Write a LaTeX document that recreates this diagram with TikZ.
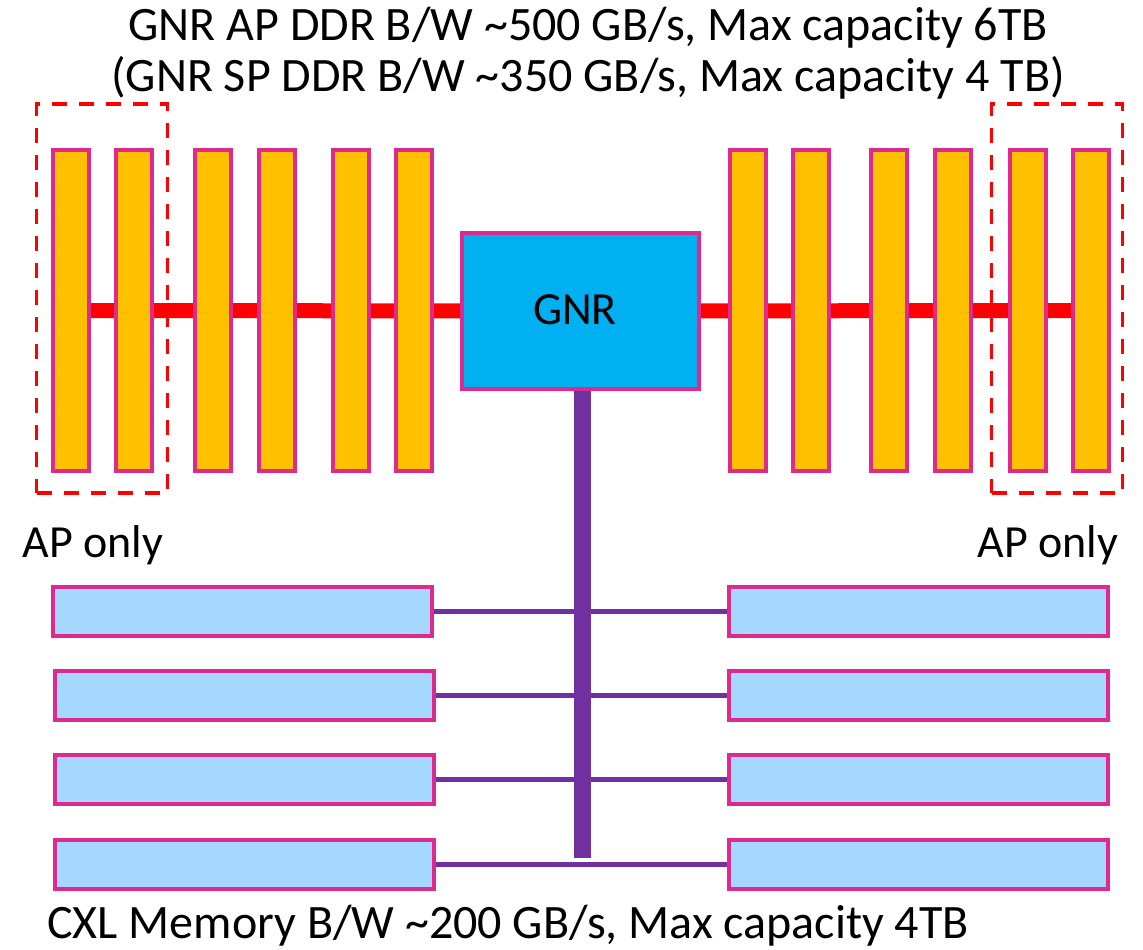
\documentclass[tikz,border=0pt]{standalone}
\usepackage{fontspec}
\setmainfont{Carlito}
\pgfdeclarelayer{background}
\pgfsetlayers{background,main}
\definecolor{dimmorange}{HTML}{FFC000}
\definecolor{edgepink}{HTML}{DE2A8E}
\definecolor{gnrblue}{HTML}{00B0F0}
\definecolor{cxlblue}{HTML}{A5D8FF}
\definecolor{buspurple}{HTML}{7030A0}
\definecolor{ddrred}{HTML}{FF0000}
\begin{document}
\begin{tikzpicture}[x=1pt,y=-1pt,
  dimm/.style={draw=edgepink, line width=4pt, fill=dimmorange, minimum width=36pt, minimum height=321pt, inner sep=0pt},
  cpu/.style={draw=edgepink, line width=4pt, fill=gnrblue, minimum width=237pt, minimum height=156pt, inner sep=0pt},
  cxl/.style={draw=edgepink, line width=4pt, fill=cxlblue, minimum width=379pt, minimum height=49pt, inner sep=0pt},
  aponly/.style={draw=ddrred, line width=3.5pt, dash pattern=on 15pt off 12pt, minimum width=131pt, minimum height=389pt, inner sep=0pt},
  ddrbus/.style={draw=ddrred, line width=15pt},
  cxlbus/.style={draw=buspurple, line width=17pt},
  cxllink/.style={draw=buspurple, line width=5pt},
  txt/.style={anchor=base, inner sep=0pt, font=\fontsize{48}{58}\selectfont},
  smalltxt/.style={anchor=base, inner sep=0pt, font=\fontsize{46}{55}\selectfont}
]
\useasboundingbox (0,0) rectangle (1143,950);

% titles
\node[txt] (t1) at (588,41) {GNR AP DDR B/W \textasciitilde500 GB/s, Max capacity 6TB};
\node[txt] (t2) at (588,92) {(GNR SP DDR B/W \textasciitilde350 GB/s, Max capacity 4 TB)};

% dashed AP-only regions
\node[aponly] (apl) at (102.2,298.5) {};
\node[aponly] (apr) at (1057.2,298.5) {};

% DIMMs
\node[dimm] (b1) at (71,310.5) {};
\node[dimm] (b2) at (134,310.5) {};
\node[dimm] (b3) at (212.5,310.5) {};
\node[dimm] (b4) at (276.5,310.5) {};
\node[dimm] (b5) at (350.5,310.5) {};
\node[dimm] (b6) at (414,310.5) {};
\node[dimm] (b7) at (747.5,310.5) {};
\node[dimm] (b8) at (810.5,310.5) {};
\node[dimm] (b9) at (889,310.5) {};
\node[dimm] (b10) at (952.5,310.5) {};
\node[dimm] (b11) at (1027.5,310.5) {};
\node[dimm] (b12) at (1090.5,310.5) {};

% CPU
\node[cpu] (gnr) at (580.5,311) {};
\node[smalltxt] (gnrlabel) at (575,324) {GNR};

% CXL boxes
\node[cxl] (l1) at (242.5,611.5) {};
\node[cxl] (l2) at (244,695.5) {};
\node[cxl] (l3) at (244,779.5) {};
\node[cxl] (l4) at (244,864.5) {};
\node[cxl] (r1) at (918.5,611.5) {};
\node[cxl] (r2) at (918.5,695.5) {};
\node[cxl] (r3) at (918.5,779.5) {};
\node[cxl] (r4) at (918.5,864.5) {};

\coordinate (busend) at (582,858);

% labels
\node[smalltxt] (apltxt) at (93,557) {AP only};
\node[smalltxt] (aprtxt) at (1048,557) {AP only};
\node[txt] (cxltxt) at (508,938) {CXL Memory B/W \textasciitilde200 GB/s, Max capacity 4TB};

\begin{pgfonlayer}{background}
  \draw[ddrbus] (b1.center) -- (gnr.center);
  \draw[ddrbus] (gnr.center) -- (b12.center);
  \draw[cxllink] (l1.center) -- (r1.center);
  \draw[cxllink] (l2.center) -- (r2.center);
  \draw[cxllink] (l3.center) -- (r3.center);
  \draw[cxllink] (l4.center) -- (r4.center);
  \draw[cxlbus] (gnr.center -| busend) -- (busend);
\end{pgfonlayer}
\end{tikzpicture}
\end{document}
